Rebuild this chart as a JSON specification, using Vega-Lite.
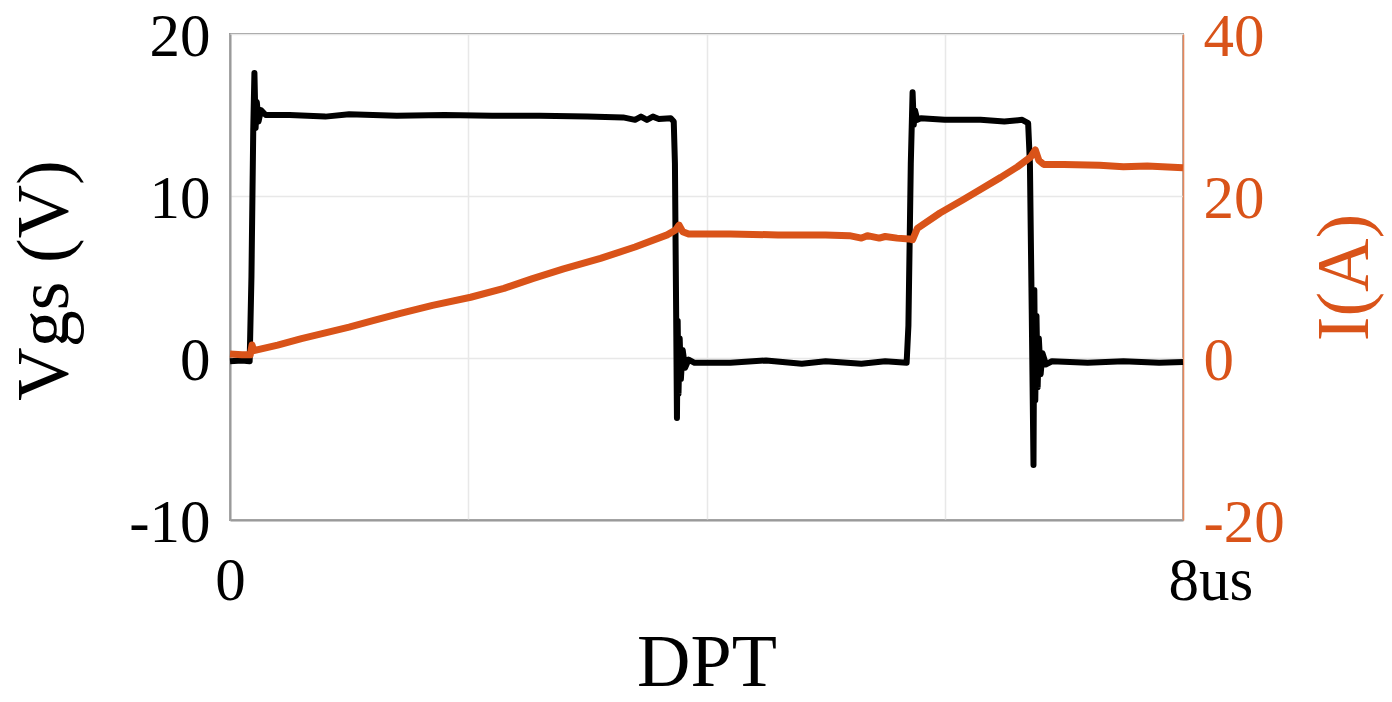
{
  "$schema": "https://vega.github.io/schema/vega-lite/v6.json",
  "width": 953,
  "height": 486,
  "autosize": {"type": "none"},
  "padding": {"left": 230, "top": 34, "right": 209, "bottom": 182},
  "background": "white",
  "config": {
    "font": "Liberation Serif",
    "view": {"stroke": "#9a9a9a", "strokeWidth": 2},
    "axis": {
      "labelFont": "Liberation Serif",
      "titleFont": "Liberation Serif",
      "labelFontSize": 61,
      "titleFontSize": 74,
      "titleFontWeight": "normal",
      "ticks": false,
      "labelOverlap": false,
      "labelBound": false,
      "labelFlush": false,
      "gridColor": "#e8e8e8",
      "gridWidth": 1.5
    }
  },
  "datasets": {
    "vgs": [
      {"t": 0, "v": -0.2}, {"t": 0.1, "v": -0.15}, {"t": 0.165, "v": -0.2},
      {"t": 0.18, "v": 5}, {"t": 0.195, "v": 14}, {"t": 0.205, "v": 17.6},
      {"t": 0.215, "v": 14.2}, {"t": 0.225, "v": 15.8}, {"t": 0.24, "v": 14.6},
      {"t": 0.26, "v": 15.3}, {"t": 0.3, "v": 15.0}, {"t": 0.5, "v": 15.0},
      {"t": 0.8, "v": 14.9}, {"t": 1.0, "v": 15.05}, {"t": 1.4, "v": 14.95},
      {"t": 1.8, "v": 15.0}, {"t": 2.2, "v": 14.95}, {"t": 2.6, "v": 14.95},
      {"t": 3.0, "v": 14.9}, {"t": 3.3, "v": 14.85}, {"t": 3.4, "v": 14.7},
      {"t": 3.45, "v": 14.9}, {"t": 3.5, "v": 14.7}, {"t": 3.55, "v": 14.9},
      {"t": 3.6, "v": 14.75}, {"t": 3.7, "v": 14.8}, {"t": 3.725, "v": 14.6},
      {"t": 3.735, "v": 12}, {"t": 3.745, "v": 3}, {"t": 3.752, "v": -3.7},
      {"t": 3.758, "v": 2.3}, {"t": 3.765, "v": -2.2}, {"t": 3.775, "v": 1.2},
      {"t": 3.785, "v": -1.3}, {"t": 3.8, "v": 0.5}, {"t": 3.82, "v": -0.6},
      {"t": 3.85, "v": -0.1}, {"t": 3.9, "v": -0.3}, {"t": 4.2, "v": -0.3},
      {"t": 4.5, "v": -0.15}, {"t": 4.8, "v": -0.35}, {"t": 5.0, "v": -0.2},
      {"t": 5.3, "v": -0.35}, {"t": 5.5, "v": -0.2}, {"t": 5.68, "v": -0.3},
      {"t": 5.695, "v": 2}, {"t": 5.715, "v": 12}, {"t": 5.73, "v": 16.4},
      {"t": 5.74, "v": 14.4}, {"t": 5.75, "v": 15.3}, {"t": 5.77, "v": 14.7},
      {"t": 5.8, "v": 14.8}, {"t": 6.0, "v": 14.7}, {"t": 6.3, "v": 14.7},
      {"t": 6.5, "v": 14.6}, {"t": 6.65, "v": 14.7}, {"t": 6.7, "v": 14.5},
      {"t": 6.715, "v": 12}, {"t": 6.73, "v": 3}, {"t": 6.745, "v": -6.6},
      {"t": 6.752, "v": 4.2}, {"t": 6.76, "v": -2.6}, {"t": 6.77, "v": 2.6},
      {"t": 6.78, "v": -1.8}, {"t": 6.79, "v": 1.2}, {"t": 6.805, "v": -1.0},
      {"t": 6.82, "v": 0.3}, {"t": 6.85, "v": -0.4}, {"t": 6.9, "v": -0.2},
      {"t": 7.2, "v": -0.3}, {"t": 7.5, "v": -0.2}, {"t": 7.8, "v": -0.3},
      {"t": 8.0, "v": -0.25}
    ],
    "cur": [
      {"t": 0, "i": 0.5}, {"t": 0.1, "i": 0.4}, {"t": 0.17, "i": 0.4},
      {"t": 0.185, "i": 1.6}, {"t": 0.2, "i": 0.9}, {"t": 0.4, "i": 1.6},
      {"t": 0.6, "i": 2.4}, {"t": 0.8, "i": 3.1}, {"t": 1.0, "i": 3.8},
      {"t": 1.2, "i": 4.6}, {"t": 1.43, "i": 5.5}, {"t": 1.7, "i": 6.5},
      {"t": 2.02, "i": 7.5}, {"t": 2.3, "i": 8.6}, {"t": 2.54, "i": 9.8},
      {"t": 2.8, "i": 11.0}, {"t": 3.11, "i": 12.3}, {"t": 3.4, "i": 13.7},
      {"t": 3.67, "i": 15.2}, {"t": 3.74, "i": 15.8}, {"t": 3.77, "i": 16.4},
      {"t": 3.8, "i": 15.6}, {"t": 3.85, "i": 15.3}, {"t": 4.2, "i": 15.3},
      {"t": 4.6, "i": 15.2}, {"t": 5.0, "i": 15.2}, {"t": 5.2, "i": 15.1},
      {"t": 5.3, "i": 14.8}, {"t": 5.35, "i": 15.1}, {"t": 5.45, "i": 14.8},
      {"t": 5.5, "i": 15.0}, {"t": 5.6, "i": 14.8}, {"t": 5.7, "i": 14.7},
      {"t": 5.73, "i": 14.6}, {"t": 5.77, "i": 16.0}, {"t": 5.96, "i": 17.9},
      {"t": 6.15, "i": 19.5}, {"t": 6.32, "i": 21.0}, {"t": 6.47, "i": 22.3},
      {"t": 6.61, "i": 23.6}, {"t": 6.72, "i": 24.8}, {"t": 6.76, "i": 25.7},
      {"t": 6.79, "i": 24.4}, {"t": 6.83, "i": 23.9}, {"t": 7.0, "i": 23.9},
      {"t": 7.3, "i": 23.8}, {"t": 7.5, "i": 23.6}, {"t": 7.7, "i": 23.7},
      {"t": 8.0, "i": 23.5}
    ]
  },
  "layer": [
    {
      "data": {"name": "vgs"},
      "mark": {"type": "line", "color": "black", "strokeWidth": 6, "strokeJoin": "round"},
      "encoding": {
        "x": {
          "field": "t", "type": "quantitative",
          "scale": {"domain": [0, 8], "nice": false, "zero": false},
          "axis": {
            "values": [0, 2, 4, 6, 8],
            "labelExpr": "datum.value == 0 ? '0' : datum.value == 8 ? '8us' : ''",
            "labelAlign": {"condition": {"test": "datum.value == 8", "value": "left"}, "value": "center"},
            "labelOffset": {"condition": {"test": "datum.value == 8", "value": -15}, "value": 0},
            "labelBaseline": "alphabetic",
            "labelPadding": 79,
            "labelColor": "black",
            "domainColor": "#9a9a9a",
            "domainWidth": 2,
            "grid": true,
            "title": "DPT",
            "titleColor": "black",
            "titleBaseline": "alphabetic",
            "titleY": 165
          }
        },
        "y": {
          "field": "v", "type": "quantitative",
          "scale": {"domain": [-10, 20], "nice": false, "zero": false},
          "axis": {
            "values": [-10, 0, 10, 20],
            "labelExpr": "'' + datum.value",
            "labelPadding": 20,
            "labelColor": "black",
            "labelBaseline": "middle",
            "labelOffset": 3,
            "domainColor": "#9a9a9a",
            "domainWidth": 2,
            "grid": true,
            "title": "Vgs (V)",
            "titleColor": "black",
            "titleAngle": -90,
            "titleBaseline": "alphabetic",
            "titleAlign": "center",
            "titleX": -163,
            "titleY": 246
          }
        }
      }
    },
    {
      "data": {"name": "cur"},
      "mark": {"type": "line", "color": "#D95319", "strokeWidth": 7, "strokeJoin": "round"},
      "encoding": {
        "x": {"field": "t", "type": "quantitative"},
        "y": {
          "field": "i", "type": "quantitative",
          "scale": {"domain": [-20, 40], "nice": false, "zero": false},
          "axis": {
            "orient": "right",
            "values": [-20, 0, 20, 40],
            "labelExpr": "'' + datum.value",
            "labelPadding": 20,
            "labelColor": "#D95319",
            "labelBaseline": "middle",
            "labelOffset": 3,
            "domainColor": "#E8875A",
            "domainWidth": 1.5,
            "grid": false,
            "title": "I(A)",
            "titleColor": "#D95319",
            "titleAngle": -90,
            "titleBaseline": "alphabetic",
            "titleAlign": "center",
            "titleX": 184,
            "titleY": 243
          }
        }
      }
    }
  ],
  "resolve": {"scale": {"y": "independent"}}
}
